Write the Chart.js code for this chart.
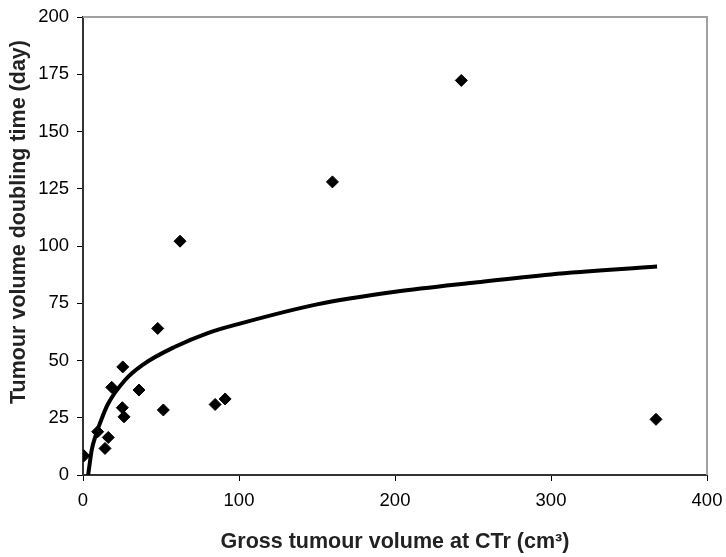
<!DOCTYPE html>
<html>
<head>
<meta charset="utf-8">
<script src="https://cdn.jsdelivr.net/npm/chart.js@4/dist/chart.umd.min.js"></script>
<style>
  html, body { margin: 0; padding: 0; background: #fff; }
  #wrap { width: 726px; height: 557px; position: relative; }
</style>
</head>
<body>
<div id="wrap"><canvas id="chart" width="726" height="557"></canvas></div>
<script>
// measured points: gross tumour volume (cm3) vs doubling time (day)
const volumes = [0.6, 9.4, 16.2, 14.1, 18.4, 25.5, 35.9, 25.2, 26.3, 47.9, 51.5, 84.7, 91.1, 62.2, 159.9, 242.5, 367.3];
const doublingTimes = [8.4, 18.9, 16.4, 11.6, 38.3, 47.2, 37.1, 29.4, 25.4, 64.0, 28.4, 30.8, 33.2, 102.1, 128.0, 172.3, 24.3];

// trend line
const trendX = [3.3, 4, 5.6, 8, 10, 16, 27, 38, 59, 80, 100, 150, 200, 250, 300, 368];
const trendY = [0, 3.5, 11, 17, 21, 31, 41.5, 48, 56, 62, 66, 74.5, 80, 84, 87.6, 91];

const xTicks = [0, 100, 200, 300, 400];
const yTicks = [0, 25, 50, 75, 100, 125, 150, 175, 200];

const xTitle = "Gross tumour volume at CTr (cm³)";
const yTitle = "Tumour volume doubling time (day)";

const FONT = "'Liberation Sans', Arial, sans-serif";

// grey plot frame on top/right + y title (sits a bit above the plot centre, like the original)
const frame = {
  id: "frame",
  beforeDatasetsDraw(c) {
    const { ctx, chartArea: a } = c;
    ctx.save();
    ctx.strokeStyle = "#a0a0a0";
    ctx.lineWidth = 2;
    ctx.beginPath();
    ctx.moveTo(a.left, a.top);
    ctx.lineTo(a.right, a.top);
    ctx.lineTo(a.right, a.bottom);
    ctx.stroke();
    ctx.restore();
  },
  afterDraw(c) {
    const { ctx, chartArea: a } = c;
    ctx.save();
    ctx.translate(19, (a.top + a.bottom) / 2 - 24);
    ctx.rotate(-Math.PI / 2);
    ctx.fillStyle = "#222";
    ctx.font = `bold 21.5px ${FONT}`;
    ctx.textAlign = "center";
    ctx.textBaseline = "middle";
    ctx.fillText(yTitle, 0, 0);
    ctx.restore();
  }
};

new Chart(document.getElementById("chart"), {
  type: "scatter",
  data: {
    datasets: [
      {
        label: "trend",
        type: "line",
        data: trendX.map((x, i) => ({ x, y: trendY[i] })),
        borderColor: "#000",
        borderWidth: 4,
        pointRadius: 0,
        fill: false,
        cubicInterpolationMode: "monotone",
        order: 2
      },
      {
        label: "patients",
        data: volumes.map((x, i) => ({ x, y: doublingTimes[i] })),
        pointStyle: "rectRot",
        pointRadius: 6,
        backgroundColor: "#000",
        borderColor: "#000",
        borderWidth: 1,
        order: 1
      }
    ]
  },
  options: {
    responsive: false,
    animation: false,
    events: [],
    layout: { padding: { top: 17, right: 19, left: 0, bottom: 0 } },
    plugins: { legend: { display: false }, tooltip: { enabled: false } },
    scales: {
      x: {
        type: "linear",
        min: 0,
        max: 400,
        afterBuildTicks: (s) => { s.ticks = xTicks.map((v) => ({ value: v })); },
        afterFit: (s) => { s.height = 82; s.paddingLeft = 0; s.paddingRight = 0; },
        grid: { drawOnChartArea: false, drawTicks: true, tickLength: 6, tickColor: "#000", tickWidth: 1 },
        border: { display: true, color: "#333", width: 2 },
        ticks: { color: "#000", font: { family: FONT, size: 18.5 }, padding: 9, maxRotation: 0 },
        title: {
          display: true,
          text: xTitle,
          color: "#222",
          font: { family: FONT, size: 21.5, weight: "bold" },
          padding: { top: 0, bottom: 2 }
        }
      },
      y: {
        type: "linear",
        min: 0,
        max: 200,
        afterBuildTicks: (s) => { s.ticks = yTicks.map((v) => ({ value: v })); },
        afterFit: (s) => { s.width = 83; s.paddingTop = 0; s.paddingBottom = 0; },
        grid: { drawOnChartArea: false, drawTicks: true, tickLength: 6, tickColor: "#000", tickWidth: 1 },
        border: { display: true, color: "#333", width: 2 },
        ticks: { color: "#000", font: { family: FONT, size: 18.5 }, padding: 8 }
      }
    }
  },
  plugins: [frame]
});
</script>
</body>
</html>
